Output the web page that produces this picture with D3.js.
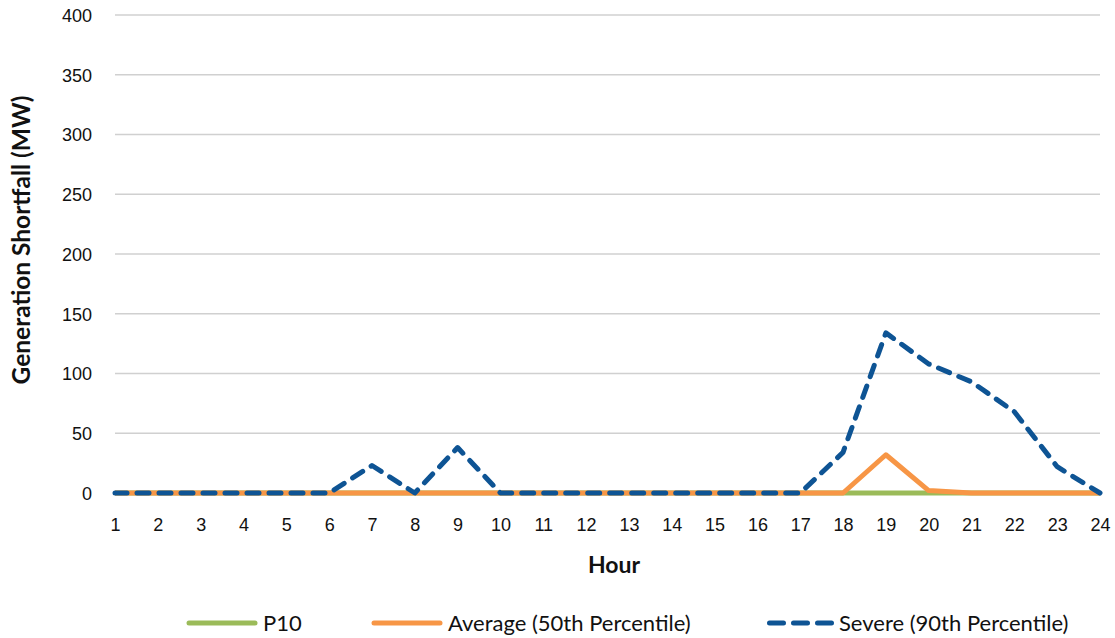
<!DOCTYPE html>
<html>
<head>
<meta charset="utf-8">
<script src="https://cdn.jsdelivr.net/npm/d3@7"></script>
<style>
  body { margin: 0; background: #fff; }
  svg { display: block; font-family: Lato, "Open Sans", sans-serif; }
</style>
</head>
<body>
<svg id="chart" width="1115" height="638"></svg>
<script>
// Hourly generation shortfall by scenario (MW)
const hours = d3.range(1, 25);
const p10 =      [0,0,0,0,0,0,0,0,0,0,0,0,0,0,0,0,0,0,0,0,0,0,0,0];
const average =  [0,0,0,0,0,0,0,0,0,0,0,0,0,0,0,0,0,0,32,2,0,0,0,0];
const severe =   [0,0,0,0,0,0,23,0,38,0,0,0,0,0,0,0,0,34,134,108,93,68,22,0];
const yTicks = [0,50,100,150,200,250,300,350,400];

const seriesNames = ["P10", "Average (50th Percentile)", "Severe (90th Percentile)"];
const seriesColors = ["#9bbb59", "#f79646", "#0e5494"];

const svg = d3.select("#chart");
const x = d3.scaleLinear().domain([1, 24]).range([115, 1100]);
const y = d3.scaleLinear().domain([0, 400]).range([493, 15]);

// Horizontal gridlines
svg.append("g").selectAll("line").data(yTicks).join("line")
  .attr("x1", x(1)).attr("x2", x(24))
  .attr("y1", d => y(d)).attr("y2", d => y(d))
  .attr("stroke", "#d0d0d0").attr("stroke-width", 1.5);

// Y axis labels
const yAxis = d3.axisLeft(y).tickValues(yTicks).tickSize(0).tickPadding(0);
svg.append("g").attr("transform", "translate(92,0)").call(yAxis)
  .call(g => g.select(".domain").remove())
  .selectAll("text").attr("font-size", 18).attr("fill", "#111").attr("dy", "0.35em");

// X axis labels
const xAxis = d3.axisBottom(x).tickValues(hours).tickFormat(d3.format("d")).tickSize(0).tickPadding(0);
svg.append("g").attr("transform", "translate(0,518)").call(xAxis)
  .call(g => g.select(".domain").remove())
  .selectAll("text").attr("font-size", 18).attr("fill", "#111");

// Axis titles
svg.append("text").attr("x", 614).attr("y", 573).attr("text-anchor", "middle")
  .attr("font-size", 23).attr("font-weight", "bold").attr("fill", "#111").text("Hour");
svg.append("text").attr("transform", "translate(30,240) rotate(-90)").attr("text-anchor", "middle")
  .attr("font-size", 24.5).attr("font-weight", "bold").attr("fill", "#111").text("Generation Shortfall (MW)");

// Series lines
const line = d3.line().x((d, i) => x(hours[i])).y(d => y(d));
const data = [p10, average, severe];
data.forEach((vals, k) => {
  const p = svg.append("path").datum(vals).attr("d", line)
    .attr("fill", "none").attr("stroke", seriesColors[k])
    .attr("stroke-width", 5).attr("stroke-linejoin", "round");
  if (k === 2) p.attr("stroke-dasharray", "12,10").attr("stroke-linecap", "round");
});

// Legend
const legend = [
  { x1: 189, x2: 255, tx: 263 },
  { x1: 374, x2: 440, tx: 448 },
  { x1: 769.5, x2: 831.5, tx: 839 }
];
legend.forEach((l, k) => {
  const ln = svg.append("line").attr("x1", l.x1).attr("x2", l.x2).attr("y1", 623).attr("y2", 623)
    .attr("stroke", seriesColors[k]).attr("stroke-width", 5).attr("stroke-linecap", "round");
  if (k === 2) ln.attr("stroke-dasharray", "14,10");
  svg.append("text").attr("x", l.tx).attr("y", 623).attr("dy", "0.35em")
    .attr("font-size", 22).attr("fill", "#111").text(seriesNames[k]);
});
</script>
</body>
</html>
